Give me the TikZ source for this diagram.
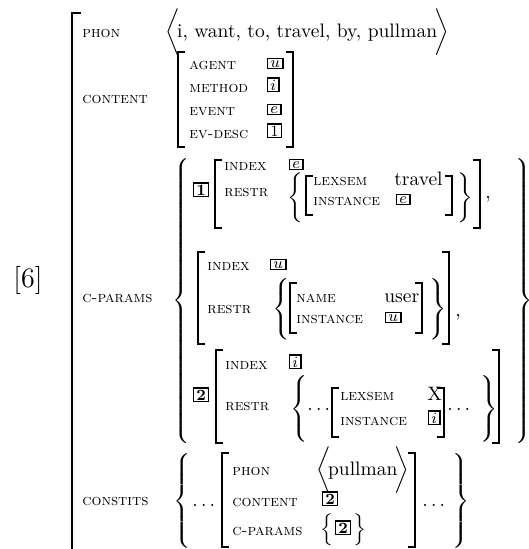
\documentclass[tikz,border=0pt]{standalone}
\usepackage{graphicx}
\nulldelimiterspace=0pt
\delimitershortfall=0pt
\delimiterfactor=1000
\tikzset{
  x=0.5128pt, y=-0.5128pt,
  lbl/.style={anchor=base west, inner sep=0pt, font=\footnotesize\scshape},
  val/.style={anchor=base west, inner sep=0pt, font=\normalsize},
  tagbox/.style={anchor=base west, draw, line width=0.75pt, inner xsep=1.4pt, inner ysep=0.8pt, font=\footnotesize},
  brk/.style={line width=0.85pt},
  dl/.style={anchor=north west, inner sep=0pt},
}
% left / right square brackets: x, top, bottom
\newcommand\lbk[3]{\draw[brk] (#1+7,#2) -- (#1,#2) -- (#1,#3) -- (#1+7,#3);}
\newcommand\rbk[3]{\draw[brk] (#1-7,#2) -- (#1,#2) -- (#1,#3) -- (#1-7,#3);}
% scaled TeX delimiters: name, delimiter, x (left edge), top, bottom
\newcommand\dll[5]{\node[dl] (#1) at (#3,#4) {\resizebox*{\width}{\dimexpr 0.5128pt*(#5-#4)\relax}{$\left#2\vcenter{\hrule height\dimexpr 0.5128pt*(#5-#4)\relax width 0pt}\right.$}};}
\newcommand\dlr[5]{\node[dl] (#1) at (#3,#4) {\resizebox*{\width}{\dimexpr 0.5128pt*(#5-#4)\relax}{$\left.\vcenter{\hrule height\dimexpr 0.5128pt*(#5-#4)\relax width 0pt}\right#2$}};}
\newcommand\angl[1]{$\bigg\langle$\kern-1.5pt#1\kern-1.5pt$\bigg\rangle$}
\begin{document}
\begin{tikzpicture}
\useasboundingbox (0,0) rectangle (529,549);
\clip (0,0) rectangle (529,549);
% example number
\node[val, font=\Large] (num) at (13,287) {[6]};
% outer matrix
\draw[brk] (81,13) -- (72,13) -- (72,570);
\node[lbl] (phon) at (82,37) {phon};
\node[val] (phonv) at (165,37) {\angl{i, want, to, travel, by, pullman}};
\node[lbl] (content) at (82,103) {content};
% CONTENT matrix
\lbk{178}{52}{147}
\rbk{293}{52}{147}
\node[lbl] (agent) at (189,69) {agent};
\node[lbl] (method) at (189,92) {method};
\node[lbl] (event) at (189,115) {event};
\node[lbl] (evdesc) at (189,138) {ev-desc};
\node[tagbox] (tu1) at (267,67) {$u$};
\node[tagbox] (ti1) at (267,90) {$i$};
\node[tagbox] (te1) at (267,113) {$e$};
\node[tagbox] (t11) at (267,136) {1};
% C-PARAMS
\node[lbl] (cparams) at (82,302) {c-params};
\dll{cpl}{\{}{172}{158}{443}
\dlr{cpr}{\}}{515}{158}{443}
% param 1
\node[tagbox] (p1tag) at (193,195) {\bfseries 1};
\lbk{215}{160}{228}
\rbk{480}{160}{228}
\node[lbl] (p1index) at (224,170) {index};
\node[tagbox] (p1e) at (289,168) {$e$};
\node[lbl] (p1restr) at (224,196) {restr};
\dll{p1bl}{\{}{287}{172}{222}
\lbk{306}{176}{215}
\node[lbl] (p1lex) at (313,185) {lexsem};
\node[val] (p1travel) at (394,185) {travel};
\node[lbl] (p1inst) at (313,205) {instance};
\node[tagbox] (p1e2) at (396,203) {$e$};
\rbk{452}{176}{215}
\dlr{p1br}{\}}{457}{172}{222}
\node[val] (p1comma) at (485,198) {,};
% param 2
\lbk{198}{252}{344}
\rbk{449}{252}{344}
\node[lbl] (p2index) at (207,270) {index};
\node[tagbox] (p2u) at (270,268) {$u$};
\node[lbl] (p2restr) at (207,313) {restr};
\dll{p2bl}{\{}{272}{278}{340}
\lbk{290}{283}{333}
\node[lbl] (p2name) at (296,302) {name};
\node[val] (p2user) at (384,302) {user};
\node[lbl] (p2inst) at (296,323) {instance};
\node[tagbox] (p2u2) at (385,321) {$u$};
\rbk{422}{283}{333}
\dlr{p2br}{\}}{429}{278}{340}
\node[val] (p2comma) at (455,316) {,};
% param 3
\node[tagbox] (p3tag) at (193,400) {\bfseries 2};
\lbk{216}{350}{443}
\rbk{499}{350}{443}
\node[lbl] (p3index) at (225,369) {index};
\node[tagbox] (p3i) at (289,367) {$i$};
\node[lbl] (p3restr) at (225,410) {restr};
\dll{p3bl}{\{}{290}{375}{442}
\node[val] (p3dots1) at (307,410) {$\ldots$};
\lbk{332}{388}{437}
\node[lbl] (p3lex) at (340,400) {lexsem};
\node[val] (p3x) at (427,400) {X};
\node[lbl] (p3inst) at (340,425) {instance};
\node[tagbox] (p3i2) at (428,423) {$i$};
\rbk{444}{388}{437}
\node[val] (p3dots2) at (447,410) {$\ldots$};
\dlr{p3br}{\}}{480}{375}{442}
% CONSTITS
\node[lbl] (constits) at (82,505) {constits};
\dll{csl}{\{}{173}{453}{548}
\node[val] (csdots1) at (192,506) {$\ldots$};
\lbk{222}{453}{547}
\node[lbl] (csphon) at (232,475) {phon};
\node[val] (csphonv) at (316,475) {\angl{pullman}};
\node[lbl] (cscontent) at (232,506) {content};
\node[tagbox] (cs2) at (322,504) {\bfseries 2};
\node[lbl] (cscparams) at (232,535) {c-params};
\dll{cscl}{\{}{320}{513}{545}
\node[tagbox] (cs2b) at (335,533) {\bfseries 2};
\dlr{cscr}{\}}{353}{513}{545}
\rbk{415}{453}{547}
\node[val] (csdots2) at (422,506) {$\ldots$};
\dlr{csr}{\}}{452}{453}{548}
\end{tikzpicture}
\end{document}
